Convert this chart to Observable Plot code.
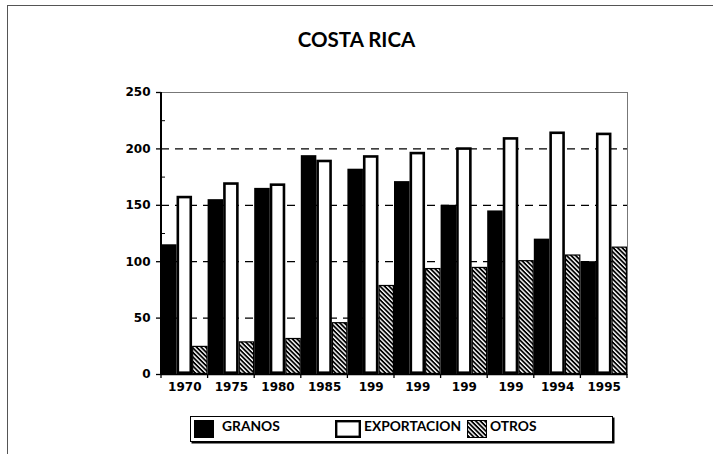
<!DOCTYPE html>
<html><head><meta charset="utf-8">
<script src="https://cdn.jsdelivr.net/npm/d3@7"></script>
<script src="https://cdn.jsdelivr.net/npm/@observablehq/plot@0.6"></script>
<style>
body{margin:0;background:#fff;}
#wrap{position:relative;width:713px;height:454px;overflow:hidden;background:#fff;}
#outer{position:absolute;left:7px;top:5px;width:800px;height:600px;border-left:1px solid #555;border-top:1px solid #555;}
#title{position:absolute;left:0;width:713px;top:27px;text-align:center;font:bold 20.5px Lato;color:#000;}
#plot{position:absolute;left:0;top:0;}
#legend{position:absolute;left:190px;top:416px;width:421px;height:24px;border:1px solid #000;box-shadow:1.5px 1.5px 0 #000;background:#fff;}
#legend .t{position:absolute;top:0;line-height:24px;font:bold 13.8px Lato;color:#000;}
#legend .sw{position:absolute;top:3px;}
</style></head>
<body>
<div id="wrap">
  <div id="outer"></div>
  <div id="title">COSTA RICA</div>
  <div id="plot"></div>
  <div id="legend"></div>
</div>
<script>
const years = ["1970","1975","1980","1985","199","199","199","199","1994","1995"];
const granos = [115,155,165,194,182,171,150,145,120,100];
const exportacion = [158,170,169,190,194,197,201,210,215,214];
const otros = [25,29,32,46,79,94,95,101,106,113];
const series = ["GRANOS","EXPORTACION","OTROS"];
const yTicks = [0,50,100,150,200,250];
const yMinor = [25,75,125,175,225];
const grid = [50,100,150,200];

const key = (i, s) => i + "|" + s;
const rowsG = granos.map((v, i) => ({i, s: "GRANOS", v}));
const rowsE = exportacion.map((v, i) => ({i, s: "EXPORTACION", v}));
const rowsO = otros.map((v, i) => ({i, s: "OTROS", v}));

const plot = Plot.plot({
  width: 713, height: 454,
  marginLeft: 161, marginRight: 86, marginTop: 92, marginBottom: 80,
  style: {fontFamily: "DejaVu Sans", background: "transparent", color: "#000"},
  x: {domain: years.flatMap((_, i) => series.map(s => key(i, s))), padding: 0, round: false, axis: null},
  y: {domain: [0, 250], axis: null},
  marks: [
    Plot.frame({stroke: "#777", strokeWidth: 1}),
    Plot.ruleY(grid, {stroke: "#000", strokeWidth: 1.2, strokeDasharray: "8,6"}),
    Plot.barY(rowsG, {x: d => key(d.i, d.s), y: "v", fill: "#000"}),
    Plot.barY(rowsE, {x: d => key(d.i, d.s), y: "v", fill: "#fff", stroke: "#000", strokeWidth: 2.6, inset: 1.3}),
    Plot.barY(rowsO, {x: d => key(d.i, d.s), y: "v", fill: "url(#hatch)", stroke: "#000", strokeWidth: 1.2, inset: 0.6}),
    Plot.ruleY([0], {stroke: "#000", strokeWidth: 1.5}),
    Plot.axisY({ticks: yTicks, tickSize: 5, tickPadding: 6, fontSize: 12, fontWeight: "bold", label: null, strokeWidth: 1.3}),
    Plot.axisY({ticks: yMinor, tickSize: -4, tickFormat: () => "", label: null}),
    Plot.text(years.map((y, i) => ({i, y})), {x: d => key(d.i, "EXPORTACION"), y: () => 0, text: "y", dy: 8, lineAnchor: "top", fontSize: 12, fontWeight: "bold"})
  ]
});
document.getElementById("plot").appendChild(plot);

const svg = d3.select(plot);
const defs = svg.insert("defs", ":first-child");
function addHatch(d, id) {
  const p = d.append("pattern").attr("id", id).attr("patternUnits", "userSpaceOnUse")
    .attr("width", 3.2).attr("height", 3.2).attr("patternTransform", "rotate(-45)");
  p.append("rect").attr("width", 3.2).attr("height", 3.2).attr("fill", "#000");
  p.append("rect").attr("width", 1.4).attr("height", 3.2).attr("fill", "#fff");
}
addHatch(defs, "hatch");

const xs = plot.scale("x"), ys = plot.scale("y");
const y0 = ys.apply(0), y1 = ys.apply(250);
const left = xs.apply(key(0, "GRANOS"));
const right = xs.apply(key(years.length - 1, "OTROS")) + xs.bandwidth;
const g = svg.append("g").attr("stroke", "#000");
g.append("line").attr("x1", left).attr("x2", left).attr("y1", y0).attr("y2", y1).attr("stroke-width", 2);
years.forEach((_, i) => {
  const x = xs.apply(key(i, "GRANOS"));
  g.append("line").attr("x1", x).attr("x2", x).attr("y1", y0).attr("y2", y0 + 4).attr("stroke-width", 1.3);
});
g.append("line").attr("x1", right).attr("x2", right).attr("y1", y0).attr("y2", y0 + 4).attr("stroke-width", 1.3);

// legend
const legend = d3.select("#legend");
const items = [
  {s: series[0], sw: 3, sww: 20, t: 31},
  {s: series[1], sw: 144, sww: 26, t: 173},
  {s: series[2], sw: 276, sww: 20, t: 299}
];
items.forEach(it => {
  const sv = legend.append("svg").attr("class", "sw").style("left", it.sw + "px")
    .attr("width", it.sww).attr("height", 18);
  if (it.s === "GRANOS") sv.append("rect").attr("width", it.sww).attr("height", 18).attr("fill", "#000");
  else if (it.s === "EXPORTACION") sv.append("rect").attr("x", 1.2).attr("y", 1.2).attr("width", it.sww - 2.4).attr("height", 15.6).attr("fill", "#fff").attr("stroke", "#000").attr("stroke-width", 2.4);
  else {
    addHatch(sv.append("defs"), "hatchL");
    sv.append("rect").attr("x", 0.5).attr("y", 0.5).attr("width", it.sww - 1).attr("height", 17).attr("fill", "url(#hatchL)").attr("stroke", "#000");
  }
  legend.append("div").attr("class", "t").style("left", it.t + "px").text(it.s);
});
</script>
</body></html>
